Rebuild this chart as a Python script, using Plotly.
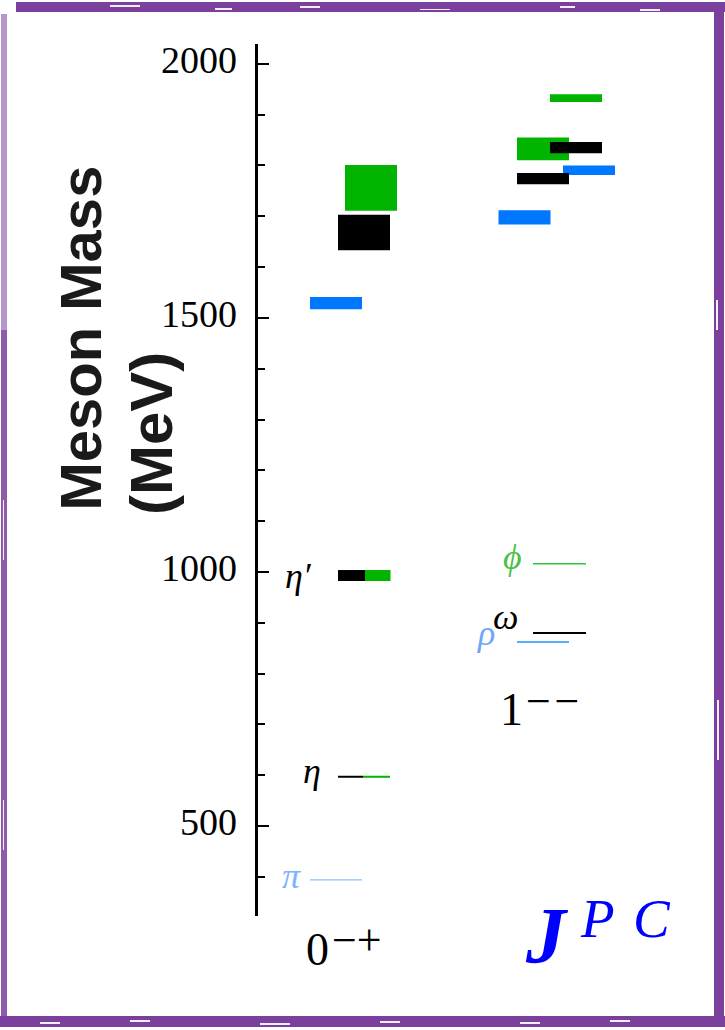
import plotly.graph_objects as go

# ---------------- data ----------------
columns = ["0-+", "1--"]
column_main = ["0", "1"]
column_sup = ["\u2212+", "\u2212\u200a\u2212"]

# lattice levels (MeV): bands low..high
lat_column = ["0-+", "0-+", "0-+", "1--", "1--", "1--", "1--", "1--", "1--"]
lat_flavour = ["isovector", "light", "strange", "isovector", "isovector",
               "light", "light", "strange", "strange"]
lat_low = [1517, 1633, 1711, 1684, 1781, 1763, 1824, 1810, 1925]
lat_high = [1541, 1703, 1801, 1712, 1800, 1785, 1846, 1855, 1940]

# experimental mesons (MeV)
exp_name = ["\u03c0", "\u03b7", "\u03b7\u2032", "\u03c1", "\u03c9", "\u03d5"]
exp_column = ["0-+", "0-+", "0-+", "1--", "1--", "1--"]
exp_mass = [394, 597, 993, 862, 880, 1016]
exp_flavour = ["isovector", "mixed", "mixed", "isovector", "light", "strange"]

y_ticks = [500, 1000, 1500, 2000]
y_tick_text = ["500", "1000", "1500", "2000"]
y_title = ["Meson Mass", "(MeV)"]

# ---------------- layout geometry (page pixels) ----------------
W, H = 725, 1030
AX_X, AX_TOP, AX_BOT, AX_RIGHT = 258, 44, 916, 700
ML, MT, MR, MB = AX_X, AX_TOP, W - AX_RIGHT, H - AX_BOT
PW, PH = W - ML - MR, H - MT - MB
Y_RANGE = [323, 2039]


def xp(px):
    return (px - AX_X) / PW


def yp(py):
    return (AX_BOT - py) / PH


COL_CENTER = {"0-+": 92, "1--": 298}          # x data units == pixels inside plot
LAT_DX = [-14, 14, 21, -31.5, 33, -13, 20, -13, 20]
BAR_W = 52
COLORS = {"isovector": "#0077ff", "light": "#000000", "strange": "#00b400"}
EXP_SEG = {  # relative x-ranges of each experimental line
    "\u03c0": [(-40, 12, "#8cbfff")],
    "\u03b7": [(-12, 13, "#000000"), (13, 40, "#00b400")],
    "\u03b7\u2032": [(-12, 15, "#000000"), (15, 40.5, "#00b400")],
    "\u03c1": [(-39, 13, "#1e90ff")],
    "\u03c9": [(-23, 30, "#000000")],
    "\u03d5": [(-23, 30, "#33c733")],
}
EXP_W = {"\u03c0": 1.2, "\u03b7": 2, "\u03b7\u2032": 11, "\u03c1": 1.5, "\u03c9": 2, "\u03d5": 1.5}
EXP_LABEL = {  # (right px, centre px, colour)
    "\u03c0": (303, 876, "#7fb2ff"),
    "\u03b7": (323, 771, "#000000"),
    "\u03b7\u2032": (314, 576, "#000000"),
    "\u03c1": (497, 633, "#6fa5ff"),
    "\u03c9": (520, 617, "#000000"),
    "\u03d5": (524, 557, "#4cbf4c"),
}

fig = go.Figure()

# lattice bands
for flav in ["isovector", "strange", "light"]:
    idx = [i for i, f in enumerate(lat_flavour) if f == flav]
    fig.add_trace(go.Bar(
        x=[COL_CENTER[lat_column[i]] + LAT_DX[i] for i in idx],
        y=[lat_high[i] - lat_low[i] for i in idx],
        base=[lat_low[i] for i in idx],
        width=BAR_W,
        marker=dict(color=COLORS[flav], line=dict(width=0)),
        showlegend=False, hoverinfo="skip"))

# experimental lines
annotations = []
for name, col, m in zip(exp_name, exp_column, exp_mass):
    for a, b, c in EXP_SEG[name]:
        fig.add_trace(go.Scatter(
            x=[COL_CENTER[col] + a, COL_CENTER[col] + b], y=[m, m],
            mode="lines", line=dict(color=c, width=EXP_W[name]),
            showlegend=False, hoverinfo="skip"))
    rx, cy, lc = EXP_LABEL[name]
    annotations.append(dict(
        x=xp(rx), y=yp(cy), xref="paper", yref="paper", xanchor="right",
        yanchor="middle", showarrow=False, text="<i>%s</i>" % name,
        font=dict(family="Liberation Serif", size=36, color=lc)))

# y tick labels (slightly raised like the original)
for v, t in zip(y_ticks, y_tick_text):
    annotations.append(dict(x=xp(239), y=v, xref="paper", yref="y",
                            xanchor="right", yanchor="middle", yshift=4,
                            showarrow=False, text=t,
                            font=dict(family="Liberation Serif", size=38, color="#000000")))

# J^PC column labels
MAIN_POS = {"0-+": (317.5, 949.5), "1--": (511, 709.5)}
SUP_POS = {"0-+": (330, 940), "1--": (524, 701)}
for col, mtxt, stxt in zip(columns, column_main, column_sup):
    mx, my = MAIN_POS[col]
    annotations.append(dict(
        x=xp(mx), y=yp(my), xref="paper", yref="paper", xanchor="center",
        yanchor="middle", showarrow=False, text=mtxt,
        font=dict(family="Liberation Serif", size=46, color="#000000")))
    sx, sy = SUP_POS[col]
    annotations.append(dict(
        x=xp(sx), y=yp(sy), xref="paper", yref="paper", xanchor="left",
        yanchor="middle", showarrow=False, text=stxt,
        font=dict(family="Liberation Serif", size=44, color="#000000")))

# J P C title
annotations.append(dict(x=xp(547), y=yp(936), xref="paper", yref="paper",
                        xanchor="center", yanchor="middle", showarrow=False,
                        text="<b><i>J</i></b>",
                        font=dict(family="Liberation Serif", size=80, color="#0000ff")))
annotations.append(dict(x=xp(597), y=yp(919), xref="paper", yref="paper",
                        xanchor="center", yanchor="middle", showarrow=False,
                        text="<i>P</i>",
                        font=dict(family="Liberation Serif", size=55, color="#0000ff")))
annotations.append(dict(x=xp(652), y=yp(919), xref="paper", yref="paper",
                        xanchor="center", yanchor="middle", showarrow=False,
                        text="<i>C</i>",
                        font=dict(family="Liberation Serif", size=55, color="#0000ff")))

# y title (two rotated lines)
for txt, (cx, cy), fs in zip(y_title, [(80, 338.5), (151, 434)], [58, 60]):
    annotations.append(dict(x=xp(cx), y=yp(cy), xref="paper", yref="paper",
                            xanchor="center", yanchor="middle", showarrow=False,
                            textangle=-90, text="<b>%s</b>" % txt,
                            font=dict(family="Liberation Sans", size=fs, color="#1a1a1a")))

# purple hand-drawn frame (page pixels)
PURPLE = "#7b3f9d"
shapes = []
for x0, y0, x1, y1, op in [(16, 2, 725, 12, 1), (714, 4, 724, 1027, 1),
                           (0, 1016, 725, 1027, 1), (1, 14, 7, 330, 0.55),
                           (1, 330, 7, 1027, 0.85)]:
    shapes.append(dict(type="rect", xref="paper", yref="paper",
                       x0=xp(x0), x1=xp(x1), y0=yp(y0), y1=yp(y1),
                       fillcolor=PURPLE, opacity=op, line=dict(width=0), layer="above"))
# small white scratches on the frame
for x0, y0, x1, y1 in [(110, 5, 140, 7), (215, 8, 232, 10), (300, 6, 320, 8), (420, 9, 450, 10),
                       (560, 6, 575, 8), (640, 9, 660, 11), (40, 1022, 60, 1024),
                       (130, 1020, 150, 1022), (260, 1023, 290, 1025), (380, 1021, 400, 1023),
                       (520, 1022, 540, 1024), (610, 1020, 630, 1022), (716, 300, 718, 330),
                       (717, 700, 719, 760), (3, 500, 4, 560), (3, 800, 4, 850)]:
    shapes.append(dict(type="rect", xref="paper", yref="paper",
                       x0=xp(x0), x1=xp(x1), y0=yp(y0), y1=yp(y1),
                       fillcolor="#ffffff", opacity=0.9, line=dict(width=0), layer="above"))

fig.update_layout(
    width=W, height=H,
    margin=dict(l=ML, r=MR, t=MT, b=MB, pad=0),
    paper_bgcolor="#ffffff", plot_bgcolor="#ffffff",
    barmode="overlay", showlegend=False,
    xaxis=dict(range=[0, PW], visible=False, fixedrange=True),
    yaxis=dict(range=Y_RANGE, showgrid=False, zeroline=False,
               showline=True, linecolor="#000000", linewidth=2.5,
               ticks="inside", ticklen=11, tickwidth=2, tickcolor="#000000",
               tickvals=y_ticks, showticklabels=False,
               minor=dict(ticks="inside", dtick=100, ticklen=7, tickwidth=2,
                          tickcolor="#000000", showgrid=False)),
    annotations=annotations, shapes=shapes,
)

fig.write_html("out.html", config={"displayModeBar": False},
               post_script="document.body.style.margin='0';"
                           "document.body.style.overflow='hidden';")
